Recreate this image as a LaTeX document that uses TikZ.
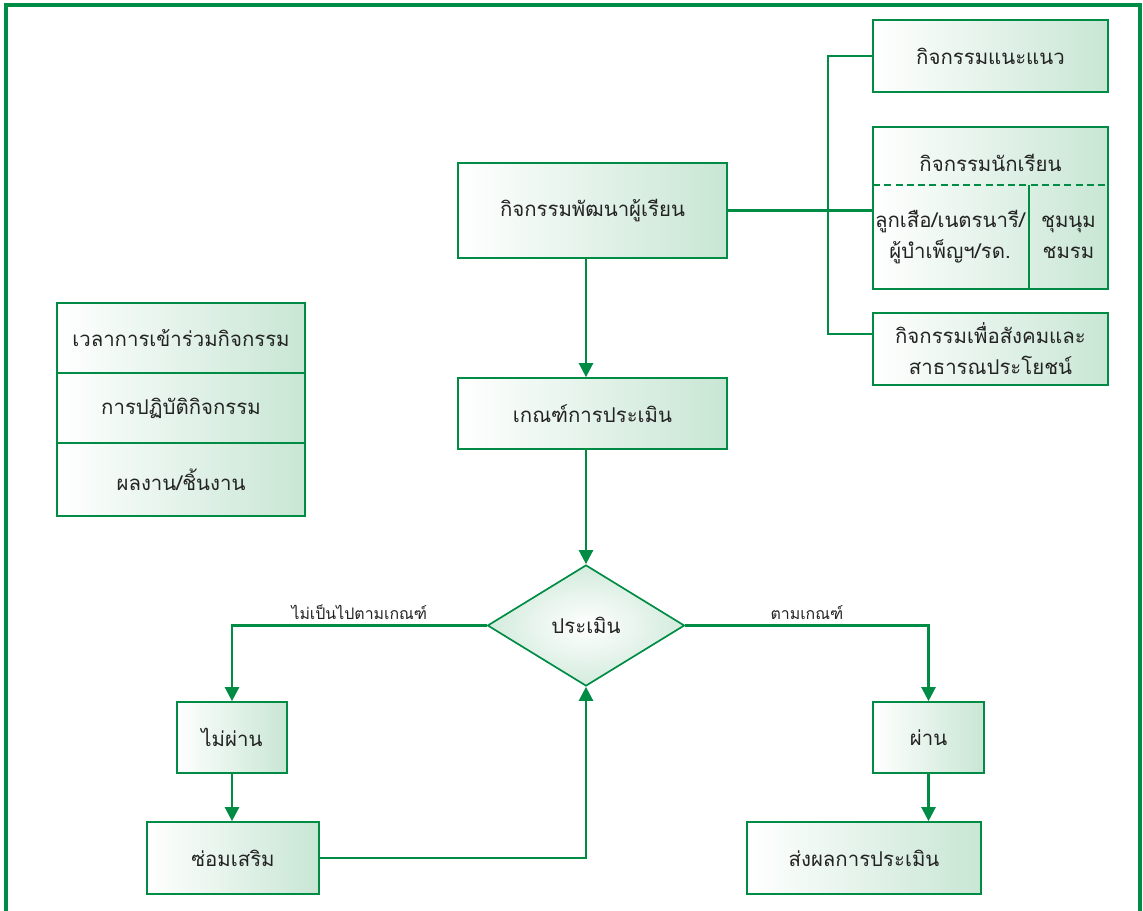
\documentclass[tikz,border=0pt]{standalone}
\usepackage{fontspec}
\usepackage{xcolor}
\newfontfamily\thaifont[Script=Thai]{Loma}
\usetikzlibrary{arrows.meta,shapes.geometric,calc}

\definecolor{linegreen}{RGB}{0,140,68}
\definecolor{palegreen}{RGB}{200,230,212}
\definecolor{textgray}{RGB}{35,35,35}

\tikzset{
  box/.style={draw=linegreen, line width=1.2pt, left color=white, right color=palegreen,
    text=textgray, font=\thaifont\fontsize{14.5}{22}\selectfont, align=center, inner sep=0pt},
  link/.style={draw=linegreen, line width=1.8pt},
  arr/.style={link, -{Triangle[length=10pt,width=10pt]}},
  lbl/.style={text=textgray, font=\thaifont\fontsize{11.3}{14}\selectfont, inner sep=3pt}
}

\begin{document}
\begin{tikzpicture}[x=0.025cm,y=-0.025cm]
    \useasboundingbox (0,0) rectangle (1143,911);
    \draw[linegreen, line width=2.4pt] (6,920) -- (6,5) -- (1140,5) -- (1140,920); % outer frame

    % main flow
    \node[box, minimum width=6.725cm, minimum height=2.375cm] (develop) at (592.5,210.5) {กิจกรรมพัฒนาผู้เรียน};
    \node[box, minimum width=6.725cm, minimum height=1.775cm] (criteria) at (592.5,413.5) {เกณฑ์การประเมิน};
    \node[diamond, draw=linegreen, line width=1.2pt, inner color=white, outer color=palegreen!80,
      minimum width=4.925cm, minimum height=3.025cm, inner sep=0pt, text=textgray,
      font=\thaifont\fontsize{14.5}{20}\selectfont] (assess) at (586,625.5) {ประเมิน};
    \node[box, minimum width=2.75cm, minimum height=1.775cm] (fail) at (232,737.5) {ไม่ผ่าน};
    \node[box, minimum width=4.3cm, minimum height=1.8cm] (remedial) at (233,858) {ซ่อมเสริม};
    \node[box, minimum width=2.775cm, minimum height=1.775cm] (pass) at (928.5,737.5) {ผ่าน};
    \node[box, minimum width=5.85cm, minimum height=1.8cm] (report) at (864,858) {ส่งผลการประเมิน};

    % left stack
    \node[box, minimum width=6.2cm, minimum height=1.75cm] (time) at (181,338) {เวลาการเข้าร่วมกิจกรรม};
    \node[box, minimum width=6.2cm, minimum height=1.75cm] (practice) at (181,408) {การปฏิบัติกิจกรรม};
    \node[box, minimum width=6.2cm, minimum height=1.825cm] (work) at (181,479.5) {ผลงาน/ชิ้นงาน};

    % right side
    \node[box, minimum width=5.875cm, minimum height=1.8cm] (guidance) at (990.5,56) {กิจกรรมแนะแนว};
    \node[box, minimum width=5.875cm, minimum height=4.05cm] (students) at (990.5,208) {};
    \node[box, minimum width=5.875cm, minimum height=1.8cm] (social) at (990.5,349) {กิจกรรมเพื่อสังคมและ\\สาธารณประโยชน์};
    \draw[linegreen, line width=1.2pt, dash pattern=on 5pt off 3pt] (873,185) -- (1108,185);
    \draw[link] (1029,185) -- (1029,290);
    \node[text=textgray, font=\thaifont\fontsize{14.5}{20}\selectfont] (studhead) at (990.5,163) {กิจกรรมนักเรียน};
    \node[text=textgray, font=\thaifont\fontsize{14.5}{22}\selectfont, align=center] (scouts) at (950,237) {ลูกเสือ/เนตรนารี/\\ผู้บำเพ็ญฯ/รด.};
    \node[text=textgray, font=\thaifont\fontsize{14.5}{22}\selectfont, align=center] (clubs) at (1068.5,237) {ชุมนุม\\ชมรม};

    % connectors
    \coordinate (bus) at (828,210.5);
    \draw[link] (develop.east) -- (students.west |- develop.east);
    \draw[link] (guidance.west) -| (bus) |- ($(social.west)+(0,-15)$);
    \draw[arr] (develop.south -| assess.north) -- (criteria.north -| assess.north);
    \draw[arr] (criteria.south -| assess.north) -- (assess.north);
    \draw[arr] (assess.west) -| node[lbl, pos=0.25, above] {ไม่เป็นไปตามเกณฑ์} (fail);
    \draw[arr] (assess.east) -| node[lbl, pos=0.25, above] {ตามเกณฑ์} (pass);
    \draw[arr] (fail.south) -- (fail.south |- remedial.north);
    \draw[arr] (pass.south) -- (pass.south |- report.north);
    \draw[arr] (remedial.east) -| (assess.south);
\end{tikzpicture}
\end{document}
